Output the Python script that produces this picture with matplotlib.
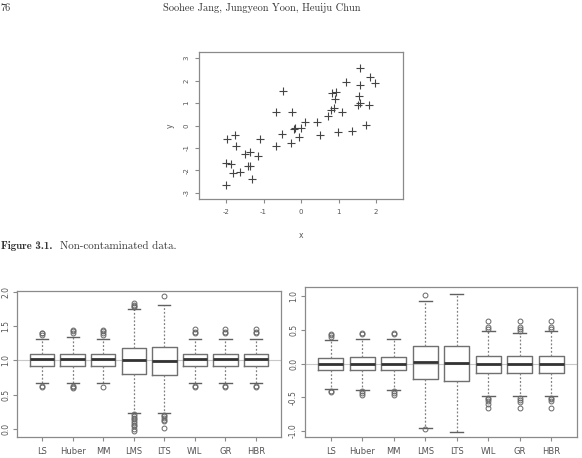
import matplotlib
matplotlib.use("Agg")
import matplotlib.pyplot as plt

# scatter data (Figure 3.1, non-contaminated)
x_vals = [-1.98, -1.77, -1.73, -1.10, -2.00, -1.88, -1.82, -1.62, -2.00, -1.50,
          -1.37, -1.42, -1.35, -1.31, -1.15, -0.68, -0.49, -0.66, -0.52, -0.23,
          -0.28, -0.19, -0.15, -0.05, 0.00, 0.11, 0.42, 0.50, 0.73, 0.80,
          0.82, 0.92, 0.90, 0.89, 1.10, 0.99, 1.19, 1.37, 1.58, 1.56,
          1.54, 1.51, 1.58, 1.83, 1.82, 1.73, 1.98]
y_vals = [-0.58, -0.44, -0.92, -0.58, -1.65, -1.70, -2.10, -2.06, -2.65, -1.25,
          -1.16, -1.79, -1.78, -2.37, -1.34, 0.58, 1.53, -0.89, -0.36, 0.58,
          -0.78, -0.17, -0.11, -0.50, -0.11, 0.15, 0.14, -0.44, 0.42, 0.67,
          1.45, 1.47, 1.16, 0.77, 0.58, -0.27, 1.95, -0.23, 2.57, 1.82,
          1.30, 0.92, 0.98, 2.14, 0.92, 0.04, 1.91]
x_ticks = [-2, -1, 0, 1, 2]
y_ticks = [-3, -2, -1, 0, 1, 2, 3]

# boxplot summaries
methods = ["LS", "Huber", "MM", "LMS", "LTS", "WIL", "GR", "HBR"]

left_med = [1.013, 1.013, 1.013, 1.00, 0.99, 1.013, 1.013, 1.013]
left_q1 = [0.91, 0.91, 0.91, 0.80, 0.79, 0.91, 0.91, 0.91]
left_q3 = [1.086, 1.086, 1.086, 1.18, 1.20, 1.086, 1.086, 1.086]
left_lo = [0.672, 0.672, 0.672, 0.234, 0.234, 0.667, 0.667, 0.667]
left_hi = [1.305, 1.34, 1.31, 1.754, 1.80, 1.316, 1.316, 1.316]
left_fliers = [
    [1.37, 1.39, 1.40, 0.62, 0.61],
    [1.39, 1.42, 1.44, 0.63, 0.61, 0.60],
    [1.37, 1.39, 1.42, 1.44, 0.61],
    [1.77, 1.79, 1.81, 1.84, 0.21, 0.19, 0.16, 0.14, 0.11, 0.09, 0.06, 0.04, -0.01, -0.03],
    [1.93, 0.20, 0.18, 0.15, 0.13, 0.11, 0.01],
    [1.39, 1.41, 1.45, 0.62, 0.61],
    [1.39, 1.41, 1.45, 0.62, 0.61],
    [1.39, 1.41, 1.45, 0.62, 0.61],
]
left_ticks = [0.0, 0.5, 1.0, 1.5, 2.0]

right_med = [0.0, 0.0, 0.0, 0.025, 0.015, -0.003, -0.003, -0.003]
right_q1 = [-0.10, -0.10, -0.10, -0.23, -0.253, -0.134, -0.134, -0.134]
right_q3 = [0.089, 0.095, 0.095, 0.26, 0.267, 0.113, 0.113, 0.113]
right_lo = [-0.372, -0.397, -0.397, -0.958, -1.018, -0.487, -0.487, -0.487]
right_hi = [0.357, 0.362, 0.362, 0.93, 1.04, 0.486, 0.46, 0.486]
right_fliers = [
    [0.39, 0.42, 0.446, -0.40, -0.42],
    [0.436, 0.46, -0.41, -0.44, -0.46],
    [0.436, 0.46, -0.41, -0.44, -0.47],
    [1.016, -0.965],
    [],
    [0.51, 0.54, 0.63, -0.51, -0.53, -0.56, -0.60, -0.66],
    [0.49, 0.52, 0.54, 0.63, -0.51, -0.54, -0.57, -0.66],
    [0.51, 0.54, 0.63, -0.51, -0.53, -0.56, -0.66],
]
right_ticks = [-1.0, -0.5, 0.0, 0.5, 1.0]

W, H = 582, 458
fig = plt.figure(figsize=(W / 100, H / 100), dpi=100)
fig.patch.set_facecolor("white")


def px_axes(left, top, right, bottom):
    return fig.add_axes([left / W, 1 - bottom / H, (right - left) / W, (bottom - top) / H])


def r_style(ax, size=5.5, pad=2):
    for s in ax.spines.values():
        s.set_color("#8a8a8a")
        s.set_linewidth(0.9)
    ax.tick_params(direction="out", length=3, width=0.8, colors="#8a8a8a",
                   labelcolor="#555555", labelsize=size, pad=pad)
    for lab in ax.get_yticklabels():
        lab.set_rotation(90)
        lab.set_va("center")


# page text
serif = ["cmr10", "DejaVu Serif"]
fig.text(0, 1 - 8 / H, "76", fontsize=7.5, family=serif, color="#333333", va="center")
fig.text(262 / W, 1 - 8 / H, "Soohee Jang, Jungyeon Yoon, Heuiju Chun", fontsize=7.5,
         family=serif, color="#333333", va="center", ha="center")
fig.text(1 / W, 1 - 246 / H, "Figure 3.1.", fontsize=7.8, family=["cmb10", "DejaVu Serif"],
         color="#333333", va="center")
fig.text(60 / W, 1 - 246 / H, "Non-contaminated data.", fontsize=7.9, family=serif,
         color="#333333", va="center")

# scatter
ax = px_axes(199, 52, 403, 199)
ax.plot(x_vals, y_vals, linestyle="none", marker="+", markersize=5.5, mew=0.8, color="#444444")
ax.set_xlim(-2.72, 2.72)
ax.set_ylim(-3.27, 3.27)
ax.set_xticks(x_ticks)
ax.set_yticks(y_ticks)
ax.set_xticklabels([str(v) for v in x_ticks])
ax.set_yticklabels([str(v) for v in y_ticks])
r_style(ax, 5, pad=4)
ax.set_xlabel("x", fontsize=5.5, color="#555555", labelpad=12)
ax.set_ylabel("y", fontsize=5.5, color="#555555", labelpad=6)


def boxes(ax, med, q1, q3, lo, hi, fl, ref):
    stats = []
    for i in range(len(methods)):
        stats.append({"med": med[i], "q1": q1[i], "q3": q3[i], "whislo": lo[i],
                      "whishi": hi[i], "fliers": fl[i], "label": methods[i]})
    ax.axhline(ref, color="#c8c8c8", lw=0.8, zorder=0)
    ax.bxp(stats, positions=range(1, len(methods) + 1), widths=0.8, capwidths=0.4,
           boxprops=dict(color="#707070", lw=1.0),
           medianprops=dict(color="#333333", lw=2.0),
           whiskerprops=dict(color="#808080", lw=0.9, linestyle=(0, (1.5, 1.5))),
           capprops=dict(color="#606060", lw=1.0),
           flierprops=dict(marker="o", markersize=3.5, mfc="none", mec="#666666", mew=0.7))
    ax.set_xlim(0.18, len(methods) + 0.82)
    r_style(ax, 5.5)
    ax.tick_params(axis="x", labelsize=6, pad=4)


axl = px_axes(17, 291, 281, 437)
boxes(axl, left_med, left_q1, left_q3, left_lo, left_hi, left_fliers, 1.0)
axl.set_ylim(-0.12, 2.01)
axl.set_yticks(left_ticks)
axl.set_yticklabels([f"{v:.1f}" for v in left_ticks], rotation=90, va="center")

axr = px_axes(305, 287, 577, 437)
boxes(axr, right_med, right_q1, right_q3, right_lo, right_hi, right_fliers, 0.0)
axr.set_ylim(-1.09, 1.14)
axr.set_yticks(right_ticks)
axr.set_yticklabels([f"{v:.1f}" for v in right_ticks], rotation=90, va="center")

fig.savefig("out.png", dpi=100)
